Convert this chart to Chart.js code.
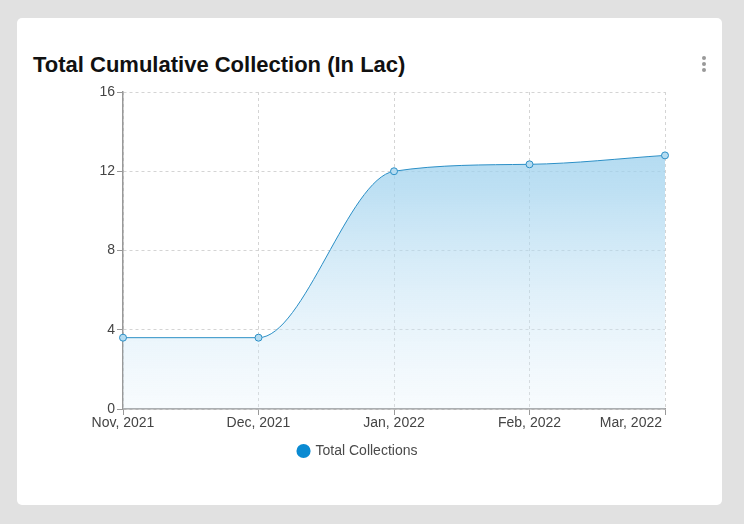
<!DOCTYPE html>
<html>
<head>
<meta charset="utf-8">
<script src="https://cdn.jsdelivr.net/npm/chart.js@4"></script>
<style>
  html, body { margin: 0; padding: 0; }
  body { width: 744px; height: 524px; background: #e1e1e1; position: relative; overflow: hidden; font-family: "Liberation Sans", Arial, sans-serif; }
  .card { position: absolute; left: 17px; top: 18px; width: 705px; height: 487px; background: #fff; border-radius: 5px; }
  .card h3 { position: absolute; left: 16px; top: 34px; margin: 0; font-size: 22px; font-weight: bold; color: #111; }
  .dots { position: absolute; left: 685px; top: 38px; }
  .dots span { display: block; width: 4px; height: 4px; border-radius: 2px; background: #999; margin-bottom: 2px; }
  .chart-box { position: absolute; left: 0; top: 62px; width: 705px; height: 398px; }
</style>
</head>
<body>
<div class="card">
  <h3>Total Cumulative Collection (In Lac)</h3>
  <div class="dots"><span></span><span></span><span></span></div>
  <div class="chart-box"><canvas id="collection-chart"></canvas></div>
</div>
<script>
// data
let months = ['Nov, 2021', 'Dec, 2021', 'Jan, 2022', 'Feb, 2022', 'Mar, 2022']
let total_collections = [3.6, 3.6, 12.0, 12.35, 12.8]
let y_ticks = [0, 4, 8, 12, 16]

let ctx = document.querySelector("#collection-chart")

// push the last x label left so it ends at the plot edge
let lastLabelRight = {
  id: 'lastLabelRight',
  beforeDraw(chart) {
    let items = chart.scales.x.getLabelItems()
    let last = items[items.length - 1]
    if (last && !last._moved) {
      last.options.textAlign = 'right'
      last.options.translation[0] = chart.chartArea.right - 3
      last._moved = true
    }
  }
}

let chart = new Chart(ctx, {
    type: 'line',
    data: {
      labels: months,
      datasets: [{
        label: 'Total Collections',
        data: total_collections,
        borderColor: '#2b8fc6',
        borderWidth: 1,
        pointRadius: 3.5,
        pointHoverRadius: 4,
        pointBackgroundColor: '#b5dcf1',
        pointBorderColor: '#2b8fc6',
        pointBorderWidth: 1,
        cubicInterpolationMode: 'monotone',
        fill: 'origin',
        backgroundColor: (c) => {
          let area = c.chart.chartArea
          if (!area) return 'rgba(160,212,238,0.6)'
          let g = c.chart.ctx.createLinearGradient(0, area.top, 0, area.bottom)
          g.addColorStop(0, 'rgba(150,205,235,0.85)')
          g.addColorStop(0.3, 'rgba(160,210,238,0.7)')
          g.addColorStop(1, 'rgba(225,240,250,0.25)')
          return g
        }
      }]
    },
    options: {
      responsive: true,
      maintainAspectRatio: false,
      animation: false,
      layout: { padding: { left: 34, right: 57, top: 12, bottom: 10 } },
      plugins: {
        tooltip: { enabled: false },
        legend: {
          position: 'bottom',
          labels: {
            usePointStyle: true,
            pointStyle: 'circle',
            boxWidth: 10,
            boxHeight: 10,
            color: '#4a4a4a',
            padding: 10,
            font: { family: 'Liberation Sans, Arial, sans-serif', size: 14 },
            generateLabels: (ch) => [{
              text: 'Total Collections',
              fillStyle: '#0a8ad2',
              strokeStyle: '#0a8ad2',
              fontColor: '#4a4a4a',
              lineWidth: 0,
              pointStyle: 'circle',
              datasetIndex: 0
            }]
          }
        }
      },
      scales: {
        x: {
          offset: false,
          afterFit: (s) => { s.height = 25 },
          grid: {
            color: '#d4d4d4',
            drawTicks: true,
            tickLength: 6,
            tickColor: '#999',
            tickBorderDash: [],
            tickWidth: 1
          },
          border: { display: true, color: '#999', width: 1.5, dash: [3, 3] },
          ticks: {
            color: '#444',
            maxRotation: 0,
            autoSkip: false,
            padding: 0,
            font: { family: 'Liberation Sans, Arial, sans-serif', size: 14 }
          }
        },
        y: {
          min: 0,
          max: 16,
          afterFit: (s) => { s.width = 72 },
          afterBuildTicks: (s) => { s.ticks = y_ticks.map(v => ({ value: v })) },
          grid: {
            color: '#d4d4d4',
            drawTicks: true,
            tickLength: 6,
            tickColor: '#999',
            tickBorderDash: [],
            tickWidth: 1
          },
          border: { display: true, color: '#999', width: 1.5, dash: [3, 3] },
          ticks: {
            color: '#444',
            padding: 2,
            font: { family: 'Liberation Sans, Arial, sans-serif', size: 14 }
          }
        }
      }
    },
    plugins: [lastLabelRight]
  });
</script>
</body>
</html>
